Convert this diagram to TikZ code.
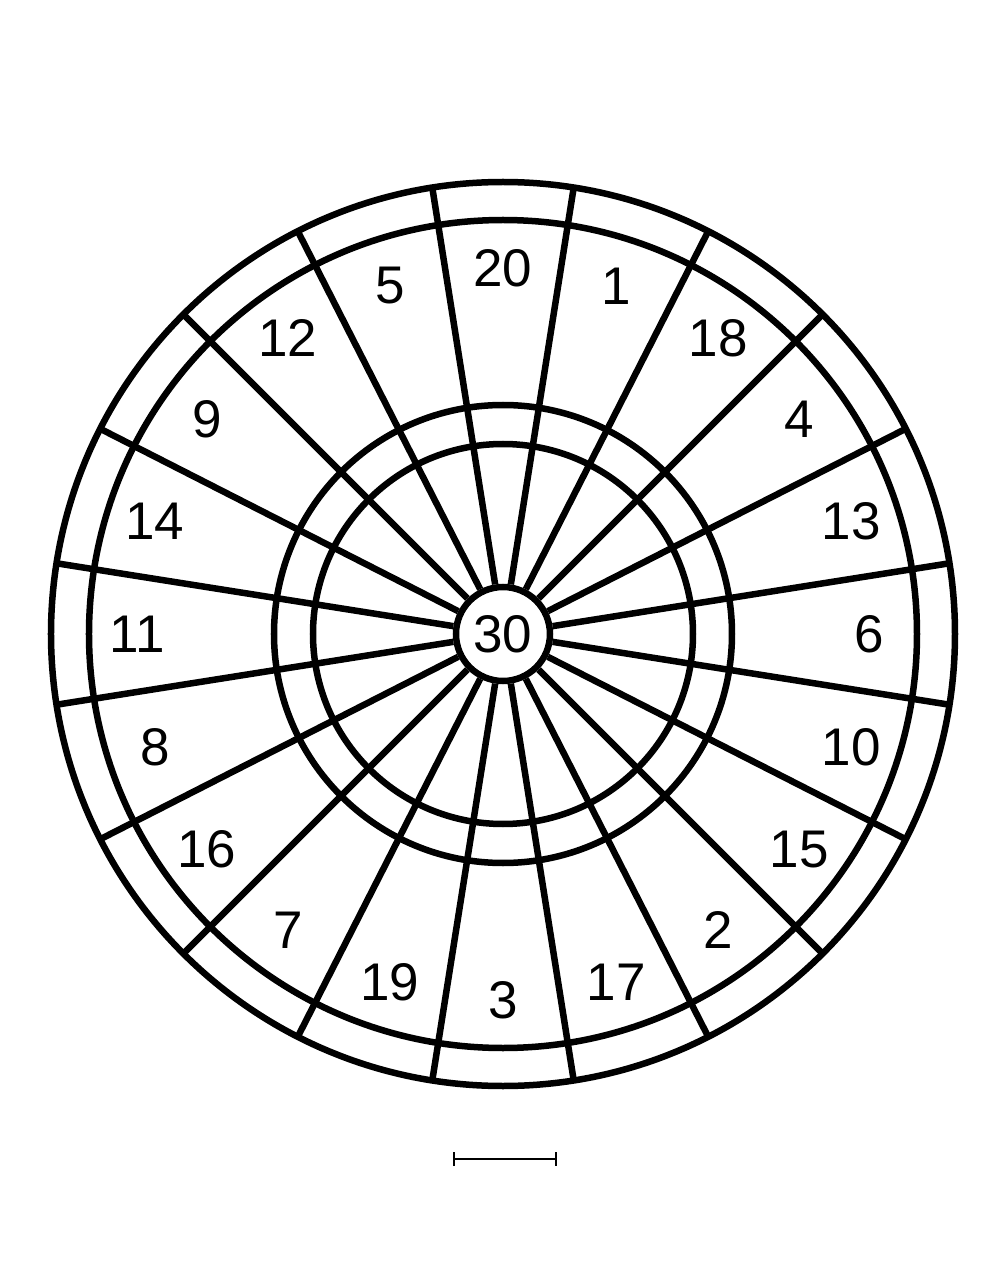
\documentclass[tikz,border=0pt]{standalone}
\usepackage{fontspec}
\setmainfont{Liberation Sans}
\usetikzlibrary{calc,arrows.meta}

\begin{document}
\begin{tikzpicture}
	[   x=1pt,y=1pt,
	    score/.style={font=\fontsize{53}{60}\selectfont,inner sep=0pt},
	]
	\tikzset{ring line/.style={draw=black,line width=6.5pt}}
	\tikzset{scale bar/.style={draw=black,line width=2pt,{Bar[width=14pt]}-{Bar[width=14pt]}}}
	\useasboundingbox (-503,-646) rectangle (487,634);
	\coordinate (c) at (0,0);
	
	\foreach \r in {452,414,229,190}
	{
		\draw[ring line] (c) circle (\r);
	}
	
	\node[ring line,circle,fill=white,minimum size=94pt,score] (bull) at (c) {30};
	
	\foreach \x in {0,...,19}
	{
		\pgfmathsetmacro{\ang}{99-18*\x}
		\coordinate (rim-\x) at ($(c)+(\ang:452)$);
		\draw[ring line] (bull.\ang) -- (rim-\x);
	}
	
	\foreach \n [count=\i from 0] in {20,1,18,4,13,6,10,15,2,17,3,19,7,16,8,11,14,9,12,5}
	{
		\node[score] (s-\n) at ($(c)+(90-18*\i:366)$) {\n};
	}
	
	\coordinate (bar-l) at (-50,-525);
	\coordinate (bar-r) at (54,-525);
	\draw[scale bar] (bar-l) -- (bar-r);

\end{tikzpicture}
\end{document}
